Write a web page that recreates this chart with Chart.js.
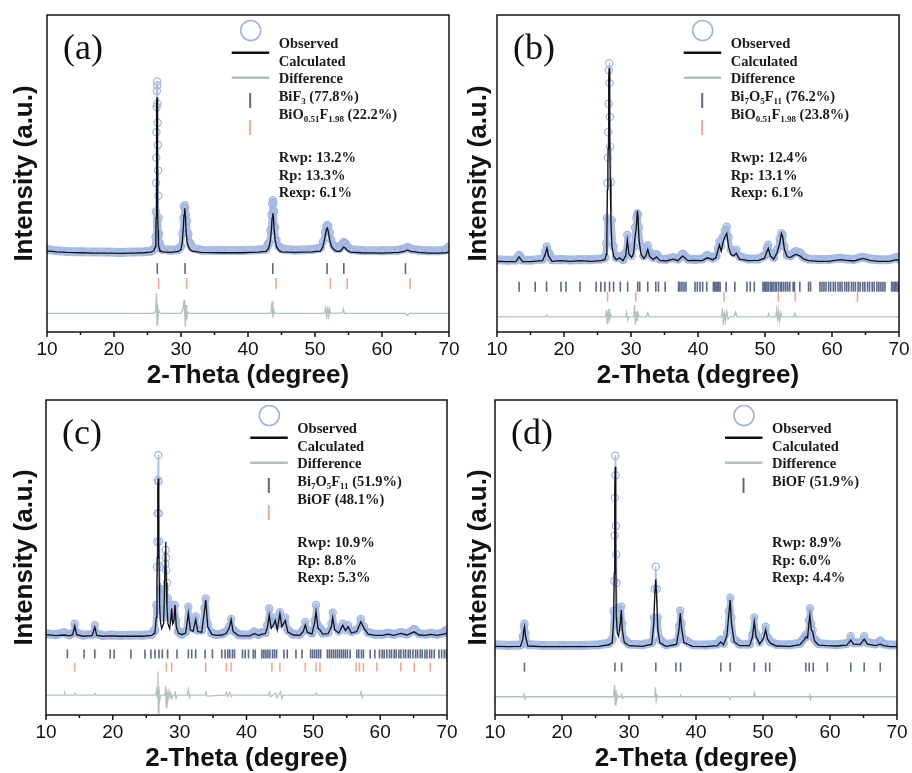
<!DOCTYPE html>
<html><head><meta charset="utf-8">
<script src="https://cdn.jsdelivr.net/npm/chart.js@4.4.1/dist/chart.umd.min.js"></script>
<style>
html,body{margin:0;padding:0;background:#fff;}
#wrap{position:relative;width:912px;height:773px;overflow:hidden;background:#fff;}
canvas{position:absolute;}
</style></head><body>
<div id="wrap">
<canvas id="cc" width="466" height="387" style="left:0px;top:386px"></canvas>
<canvas id="cd" width="450" height="387" style="left:462px;top:386px"></canvas>
<canvas id="ca" width="466" height="392" style="left:0px;top:0px"></canvas>
<canvas id="cb" width="450" height="392" style="left:462px;top:0px"></canvas>
</div>
<script>
// ---------------- DATA ----------------
const xTicks = [10, 20, 30, 40, 50, 60, 70];
const seriesNames = ['Observed', 'Calculated', 'Difference'];
const axisTitleX = '2-Theta (degree)';
const axisTitleY = 'Intensity (a.u.)';

// Panel (a)
const aTheta = [10, 11.5, 13, 15, 17, 19, 21, 23, 24.5, 25.5, 25.9,
  26.2, 26.25, 26.28, 26.31, 26.34, 26.37, 26.4, 26.43, 26.46, 26.49, 26.52, 26.55, 26.58, 26.62, 26.66, 26.72, 26.8, 26.95,
  27.3, 28.5, 29.6, 30.0, 30.2, 30.35, 30.45, 30.55, 30.65, 30.75, 30.9, 31.1, 31.35, 31.7,
  33, 36, 39, 41.5, 42.7, 43.1, 43.35, 43.5, 43.6, 43.7, 43.8, 43.9, 44.05, 44.25, 44.6, 45.0,
  47, 49.5, 50.8, 51.2, 51.5, 51.7, 51.85, 52.0, 52.2, 52.45, 52.8, 53.2,
  53.7, 54.0, 54.25, 54.5, 54.8, 55.3, 57, 60, 62.5, 63.3, 63.8, 64.3, 65.5, 67, 68.5, 69.5, 70];
const aObs = [26, 25.6, 25.4, 25.3, 25.2, 25.2, 25.1, 25.2, 25.3, 25.5, 26,
  30, 38, 47, 55, 63, 71, 76, 79, 77.8, 72, 66, 59, 51, 43, 36, 31, 28, 26.5,
  26, 25.8, 26, 27, 31, 36, 39.5, 40, 39, 37, 35, 31, 28, 26.5,
  25.8, 25.7, 25.7, 25.9, 26.2, 28, 32, 37, 40.5, 41.6, 40.8, 38, 33, 29, 27, 26.2,
  25.8, 26, 26.5, 28.5, 31.5, 33.3, 33.8, 33.2, 31.5, 29, 27.3, 26.3,
  26.5, 27.5, 28.4, 28, 27, 26, 25.7, 25.6, 25.8, 26.2, 26.7, 26.2, 25.8, 25.6, 25.6, 25.9, 26.8];
const aCalc = [25.6, 25.3, 25.1, 25.0, 24.9, 24.9, 24.8, 24.9, 25.0, 25.2, 25.6,
  27, 30, 36, 45, 56, 66, 72, 74, 70, 60, 48, 38, 32, 29, 27.5, 26.5, 26, 25.6,
  25.3, 25.1, 25.4, 26, 28.5, 33, 37, 39, 37, 32, 28.5, 27, 26, 25.5,
  25.1, 25.0, 25.0, 25.2, 25.4, 26.5, 29, 32.5, 36, 37.5, 36, 32.5, 29, 27, 25.8, 25.3,
  25.1, 25.3, 25.5, 27, 30, 32.3, 32.8, 31.5, 29, 27, 26, 25.5,
  25.4, 26, 26.8, 26.5, 25.8, 25.2, 25.0, 24.9, 25.1, 25.4, 25.9, 25.4, 25.1, 24.9, 24.9, 25.0, 25.2];
const aDiffTheta = [10, 20, 25.9, 26.2, 26.35, 26.42, 26.48, 26.55, 26.65, 26.9, 30.0, 30.3, 30.45, 30.55, 30.65, 30.75, 30.85, 31.0, 31.3,
  43.4, 43.6, 43.72, 43.85, 44.0, 51.4, 51.6, 51.75, 51.9, 52.05, 52.2, 52.35, 54.1, 54.25, 54.4, 63.5, 63.8, 64.1, 70];
const aDiff = [5.9, 5.9, 5.9, 6.5, 12.2, 2.2, 9, 3, 6.8, 5.9, 5.9, 7, 10.1, 6, 1.7, 8.5, 4, 6.3, 5.9,
  5.9, 9.6, 4.5, 7, 5.9, 5.9, 7.5, 4.2, 8, 5, 7.3, 5.9, 6, 7.2, 5.9, 5.9, 5.2, 5.9, 5.9];
const aPhase1 = [26.46, 30.6, 43.7, 51.8, 54.3, 63.5];
const aPhase2 = [26.67, 30.85, 44.2, 52.3, 54.8, 64.2];
const aPhaseLabels = [['BiF', ['3'], ' (77.8%)'], ['BiO', ['0.51'], 'F', ['1.98'], ' (22.2%)']];
const aStats = ['Rwp: 13.2%', 'Rp: 13.3%', 'Rexp: 6.1%'];

// Panel (b)
const bTheta = [10, 11.5, 12.8, 13.3, 13.8, 15, 16.8, 17.2, 17.45, 17.7, 18.2, 19.5, 21, 22.4, 24, 25.5,
  26.1, 26.3, 26.4, 26.48, 26.55, 26.6, 26.65, 26.7, 26.75, 26.8, 26.85, 26.9, 27.0, 27.15, 27.4, 27.8,
  28.3, 28.8, 29.2, 29.45, 29.7, 30.1, 30.4, 30.6, 30.8, 30.95, 31.05, 31.2, 31.5, 31.9, 32.2, 32.5, 32.8, 33.3, 33.8, 34.3,
  35.2, 36.3, 37.0, 37.7, 38.5, 39.6, 40.6, 41.4, 42.2, 42.7, 43.0, 43.2, 43.45, 43.7, 44.0, 44.3, 44.55, 44.9, 45.3, 45.7, 46.2, 47.5,
  49.0, 49.9, 50.3, 50.5, 50.8, 51.3, 51.8, 52.2, 52.45, 52.65, 52.9, 53.3, 53.8, 54.3, 54.6, 55.2, 55.8, 56.5,
  58, 59.5, 61.2, 62.2, 63.3, 64.6, 65.8, 67, 68.5, 69.7, 70];
const bObs = [22.8, 22.6, 22.7, 24.2, 22.7, 22.6, 23, 25.5, 27, 25, 22.8, 22.9, 22.7, 22.9, 22.8, 23,
  23.5, 28, 36, 47, 55, 63, 72, 82.6, 84.8, 78.5, 67.8, 58.4, 47.3, 35.3, 27, 23.5,
  23.8, 22.8, 25, 30.6, 25.5, 24, 27, 33, 36, 37.4, 37, 33, 27, 24, 25, 27.4, 25, 23.5, 24.5, 23,
  22.9, 23.5, 23, 24.6, 23, 22.9, 23, 24.2, 23.3, 24, 26.5, 28.5, 27, 30, 32, 33.2, 30, 26, 25, 26, 23.8, 23,
  23, 24, 26.5, 27.5, 25, 23.5, 26, 29.5, 31.2, 30.5, 27, 24.3, 24, 25, 25.6, 25, 23.5, 23,
  22.9, 22.9, 23.3, 23, 22.9, 23.6, 23, 22.8, 22.8, 23.6, 23];
const bCalc = [22.3, 22.2, 22.2, 23.7, 22.2, 22.2, 22.5, 24.5, 26.4, 24, 22.3, 22.5, 22.3, 22.5, 22.3, 22.5,
  22.8, 24.5, 30, 45, 53, 58, 68, 80, 83.2, 76, 62, 48, 35, 27, 24, 22.8,
  23.4, 22.5, 24, 29, 24.5, 23.5, 25, 30, 33, 38.3, 36, 29, 24.5, 23.2, 24, 26, 23.8, 22.9, 23.7, 22.6,
  22.4, 23, 22.5, 24, 22.5, 22.6, 22.5, 23.4, 22.8, 23.5, 26, 27.4, 25.5, 28, 30, 31.1, 27, 24.5, 24, 24.8, 23, 22.5,
  22.6, 23.2, 25.5, 26.4, 24, 23, 25, 28, 31.1, 30, 26, 23.8, 23.5, 24.2, 24.5, 24, 23, 22.5,
  22.3, 22.3, 22.8, 22.6, 22.4, 23.2, 22.5, 22.3, 22.3, 22.8, 22.4];
const bDiffTheta = [10, 17.2, 17.4, 17.6, 26.2, 26.35, 26.45, 26.55, 26.65, 26.72, 26.8, 26.9, 27.1,
  29.2, 29.35, 29.5, 29.65, 30.4, 30.55, 30.65, 30.8, 30.95, 31.05, 31.2, 32.3, 32.5, 32.7,
  43.5, 43.65, 43.8, 43.95, 44.1, 44.3, 44.5, 44.7, 45.4, 45.6, 45.8, 50.4, 50.55, 50.7,
  51.6, 51.75, 51.9, 52.05, 52.2, 52.35, 52.5, 54.3, 54.45, 54.6, 70];
const bDiff = [4.8, 4.8, 5.4, 4.8, 4.8, 6.9, 2.7, 6.5, 4, 7.3, 3.3, 5.8, 4.8,
  4.8, 6.3, 3.8, 4.8, 4.8, 8.5, 2.2, 6.5, 3.5, 6, 4.8, 4.8, 6, 4.8,
  4.8, 7.4, 2.2, 6.5, 3.5, 6.5, 4, 4.8, 4.8, 6.3, 4.8, 4.8, 5.8, 4.8,
  4.8, 7.1, 3.3, 6.5, 3.5, 6, 4.8, 4.8, 6, 4.8, 4.8];
const bPhase1 = [13.3, 15.7, 17.4, 19.55, 20.3, 22.4, 24.8, 25.5, 26.1, 26.8, 27.4, 28.4, 29.5, 31.0, 31.3, 32.5, 33.7, 34.1, 35.1,
  37.1, 37.3, 37.6, 37.9, 38.2, 39.55, 39.9, 40.3, 40.7, 41.3, 42.3, 42.5, 42.7, 42.9, 43.1, 43.3, 44.2, 45.5, 47.3, 47.8, 48.4,
  49.7, 49.9, 50.1, 50.3, 50.5, 50.8, 51.0, 51.2, 51.5, 51.7, 52.0, 52.3, 52.5, 52.8, 53.1, 53.4, 53.7, 54.2, 54.4, 55.2, 56.5, 56.8,
  58.2, 58.5, 58.8, 59.1, 59.5, 59.8, 60.2, 60.5, 60.9, 61.2, 61.5, 61.9, 62.2, 62.5, 62.9, 63.2, 63.5, 63.9, 64.2, 64.6, 64.9,
  65.3, 65.6, 66.0, 66.3, 66.7, 67.0, 67.3, 67.6, 67.9, 68.9, 69.1, 69.3, 69.5, 69.7, 69.9];
const bPhase2 = [26.5, 30.7, 43.9, 52.0, 54.5, 63.8];
const bPhaseLabels = [['Bi', ['7'], 'O', ['5'], 'F', ['11'], ' (76.2%)'], ['BiO', ['0.51'], 'F', ['1.98'], ' (23.8%)']];
const bStats = ['Rwp: 12.4%', 'Rp: 13.1%', 'Rexp: 6.1%'];

// Panel (c)
const cTheta = [10, 11.5, 12.7, 13.5, 14.0, 14.3, 14.6, 15.5, 16.9, 17.3,
  17.6, 18.5, 19.8, 21, 22.7, 24.5, 25.8, 26.3, 26.5, 26.6,
  26.65, 26.7, 26.75, 26.8, 26.85, 26.9, 26.95, 27.0, 27.1, 27.3,
  27.6, 27.75, 27.85, 27.9, 27.95, 28.0, 28.1, 28.25, 28.5, 28.7,
  28.8, 28.95, 29.15, 29.3, 29.5, 29.8, 30.3, 30.9, 31.3, 31.6,
  32.0, 32.4, 32.7, 33.3, 33.7, 33.9, 34.2, 34.8, 35.5, 36.4,
  37.0, 37.4, 37.7, 38.0, 38.8, 39.5, 40.5, 41.2, 41.8, 42.3,
  42.8, 43.1, 43.4, 43.7, 44.0, 44.3, 44.6, 45.0, 45.3, 45.8,
  46.2, 47.0, 48.0, 48.5, 48.8, 49.1, 49.8, 50.2, 50.4, 50.7,
  51.0, 51.4, 52.2, 52.7, 52.9, 53.2, 53.8, 54.4, 54.8, 55.2,
  55.7, 56.5, 57.1, 57.6, 58.2, 59.3, 60.3, 61.2, 62.0, 63.1,
  64.0, 65.1, 65.8, 66.8, 67.6, 68.5, 69.5, 69.8, 70];
const cObs = [25.8, 25.5, 26.2, 25.4, 26, 29, 26, 25.3, 25.6, 28.5,
  25.8, 25.2, 25.4, 25.2, 25.3, 25.3, 25.6, 27, 35, 47,
  55, 64, 74.6, 82.5, 74, 64, 55, 47, 40, 33,
  31, 40, 48, 52.4, 50, 46, 42, 37, 31, 33,
  35, 31, 31.5, 34.9, 30, 26.5, 25.6, 26.5, 34.4, 28,
  27.5, 31.3, 27, 27, 34, 37, 29, 26, 25.5, 25.8,
  26.5, 28, 30.5, 27, 25.5, 25.4, 25.4, 26.4, 25.5, 26.2,
  26.2, 28.5, 33.8, 29, 29.5, 31, 28.5, 32.6, 29, 31,
  27, 25.6, 25.6, 27, 29.5, 27, 26, 30, 34.9, 28.5,
  27.5, 26, 26.2, 29, 32.5, 28, 26.5, 29, 27, 28.5,
  26.5, 27, 30.5, 28, 26.2, 25.6, 25.6, 26, 25.6, 26.2,
  25.7, 27.2, 25.8, 25.6, 26, 25.6, 26.2, 26.8, 26.2];
const cCalc = [25.5, 25.2, 25.4, 25.1, 25.5, 28.3, 25.5, 25, 25.2, 27.9,
  25.3, 25, 25.1, 25, 25, 25, 25.3, 26, 31, 42,
  50, 62, 72, 75.1, 70, 55, 42, 35, 30, 27.5,
  29, 42, 52, 55, 50, 42, 34, 29, 27.5, 31,
  33.8, 29, 30, 34.9, 28, 26, 25.5, 26, 32.3, 27,
  26.5, 30.3, 26.5, 26.3, 33, 36.5, 28, 25.6, 25.3, 25.4,
  26, 27.5, 30.3, 26.5, 25.2, 25.1, 25.1, 25.9, 25.2, 25.7,
  25.8, 27.5, 31.7, 27.5, 28.5, 30, 27, 32.1, 28, 30,
  26.3, 25.4, 25.3, 26.5, 28.6, 26.3, 25.7, 29.5, 32.8, 27.5,
  27, 25.7, 25.8, 28, 30.9, 27, 26, 28.5, 26.8, 28,
  26, 26.5, 29.6, 27.5, 25.7, 25.3, 25.3, 25.7, 25.3, 25.9,
  25.4, 26.4, 25.4, 25.3, 25.6, 25.3, 25.7, 25.9, 25.6];
const cDiffTheta = [10, 12.7, 12.8, 12.9, 14.2, 14.35, 14.5, 17.2, 17.35, 17.5,
  26.4, 26.55, 26.65, 26.75, 26.82, 26.9, 27.0, 27.15,
  27.8, 27.9, 27.98, 28.1, 28.25, 28.4, 28.55, 28.7, 28.85, 29.0, 29.2, 29.3, 29.45, 29.6,
  31.15, 31.3, 31.45, 31.6, 33.8, 33.95, 34.1, 36.8, 37.0, 37.15, 37.5, 37.7, 37.9,
  43.3, 43.45, 43.6, 44.4, 44.55, 45.1, 45.3, 45.5, 50.3, 50.45, 50.6, 57.0, 57.15, 57.3, 57.45, 70];
const cDiff = [6.3, 6.3, 6.9, 6.3, 6.3, 6.9, 6.3, 6.3, 6.8, 6.3,
  6.3, 8, 5.5, 13.8, 0.7, 9, 4.5, 6.3,
  6.3, 9.2, 2.4, 8, 5, 7.5, 5.5, 6.9, 5.3, 6.3, 6.3, 7.5, 5.3, 6.3,
  6.3, 8.1, 5.5, 6.3, 6.3, 7.3, 6, 6.3, 7.2, 5.8, 7.2, 5.8, 6.3,
  6.3, 7.3, 5.8, 6.9, 5.5, 7.3, 5.2, 6.3, 6.3, 7, 6.3, 6.3, 7.3, 5.6, 6.3, 6.3];
const cPhase1 = [13.2, 15.7, 17.3, 19.6, 20.2, 22.7, 24.8, 25.7, 26.3, 26.9, 27.4, 28.2, 29.6, 31.3, 31.8, 32.4, 33.8, 34.9,
  36.3, 36.8, 37.2, 37.5, 37.9, 38.2, 39.4, 39.8, 40.3, 41.0, 41.3, 42.3, 42.6, 42.9, 43.2, 43.5, 43.9, 44.2, 44.5, 45.6, 46.1,
  47.4, 48.3, 49.6, 49.9, 50.2, 50.5, 50.8, 51.1, 52.1, 52.4, 52.7, 53.0, 53.3, 53.6, 53.9, 54.2, 54.5, 54.8, 55.1, 55.5,
  56.5, 56.8, 57.2, 57.5, 58.5, 59.2, 59.9, 60.3, 60.6, 61.0, 61.4, 61.7, 62.1, 62.4, 62.8, 63.1, 63.5, 63.8, 64.2, 64.5,
  64.9, 65.3, 65.6, 66.0, 66.3, 66.7, 67.0, 67.4, 67.7, 68.1, 68.8, 69.2, 69.6, 69.9];
const cPhase2 = [14.3, 28.0, 28.8, 33.9, 37.0, 37.7, 43.8, 45.0, 48.8, 50.4, 51.0, 56.4, 56.9, 57.5, 59.5, 63.1, 65.1, 67.5];
const cPhaseLabels = [['Bi', ['7'], 'O', ['5'], 'F', ['11'], ' (51.9%)'], ['BiOF (48.1%)']];
const cStats = ['Rwp: 10.9%', 'Rp: 8.8%', 'Rexp: 5.3%'];

// Panel (d)
const dTheta = [10, 12, 13.8, 14.15, 14.3, 14.4, 14.55, 14.9, 17, 20,
  23, 25.5, 27.0, 27.5, 27.7, 27.8, 27.85, 27.9, 27.95, 28.0,
  28.05, 28.1, 28.15, 28.25, 28.45, 28.7, 28.85, 29.0, 29.3, 30,
  32, 33.4, 33.7, 33.85, 34.0, 34.15, 34.3, 34.6, 35.5, 36.8,
  37.1, 37.45, 37.65, 37.85, 38.2, 39.5, 41.5, 43.2, 43.7, 44.1,
  44.6, 44.9, 45.1, 45.3, 45.7, 46.5, 48.0, 48.4, 48.7, 48.95,
  49.5, 50.1, 50.4, 50.7, 51.1, 52, 54, 55.5, 56.2, 56.4,
  56.65, 56.85, 57.0, 57.2, 57.4, 57.7, 58.3, 59.5, 61, 62.5,
  63.1, 63.5, 64.5, 65.1, 65.6, 66.8, 67.5, 68.0, 69, 70];
const dObs = [22.3, 22.1, 22.2, 25, 28, 29, 26, 22.4, 22.1, 22.1,
  22.1, 22.3, 22.8, 24, 33, 42.5, 57, 69, 82.3, 76.1,
  60, 51, 42, 34, 28, 30, 34.4, 29, 24, 22.5,
  22.3, 23, 31, 40, 47.1, 40, 31, 24, 22.3, 22.8,
  23.2, 28, 33.1, 29, 24, 22.3, 22.2, 22.5, 23.8, 22.8,
  26, 33, 37.2, 31, 24, 22.5, 22.5, 25.5, 31, 26,
  23, 25, 28, 24.5, 23.2, 22.4, 22.3, 22.8, 24.5, 25.5,
  25, 30, 33.9, 29, 27, 24, 22.6, 22.5, 22.3, 22.7,
  25, 23, 23, 25, 23, 22.5, 23.5, 22.5, 22.2, 22.2];
const dCalc = [21.8, 21.7, 21.8, 24, 27, 28, 25, 21.9, 21.7, 21.7,
  21.7, 21.8, 22.3, 23, 30, 45, 60, 72, 78.8, 68,
  50, 31, 30, 26, 25, 29, 33.3, 27, 23, 22,
  21.8, 22.5, 29, 38, 43.1, 36, 27, 23, 21.8, 22.3,
  22.5, 27, 32.3, 27.5, 23, 21.8, 21.7, 22, 23.2, 22.3,
  25, 32, 36.5, 29, 23.2, 22, 22, 24.5, 29.6, 25,
  22.5, 24.5, 27, 24, 22.8, 21.9, 21.8, 22.3, 24, 24.8,
  24.5, 29, 31.7, 27, 26.5, 23.5, 22.2, 22, 21.9, 22.2,
  23.8, 22.5, 22.4, 24.1, 22.5, 22, 22.5, 22, 21.7, 21.7];
const dDiffTheta = [10, 14.2, 14.35, 14.5, 14.65, 27.7, 27.85, 27.95, 28.05, 28.15, 28.3, 28.4,
  28.8, 28.9, 29.0, 29.1, 33.85, 33.95, 34.05, 34.2, 34.35, 37.6, 37.7, 37.8,
  44.9, 45.05, 45.2, 48.6, 48.7, 48.8, 56.9, 57.0, 57.1, 57.2, 70];
const dDiff = [5.8, 5.8, 6.6, 5, 5.8, 5.8, 9.5, 3.2, 8, 4.5, 6.3, 5.8,
  5.8, 6.5, 5.4, 5.8, 5.8, 8.8, 4.5, 6.2, 5.8, 5.8, 6.3, 5.8,
  5.8, 5, 5.8, 5.8, 6.9, 5.8, 5.8, 6.8, 5, 5.8, 5.8];
const dPhase1 = [14.4, 27.9, 28.9, 34.0, 37.0, 37.7, 43.7, 45.1, 48.7, 50.4, 51.0, 56.4, 56.9, 57.5, 59.6, 63.1, 65.1, 67.5];
const dPhaseLabels = [['BiOF (51.9%)']];
const dStats = ['Rwp: 8.9%', 'Rp: 6.0%', 'Rexp: 4.4%'];

// ---------------- STYLE ----------------
Chart.defaults.font.family = '"Liberation Sans", Arial, sans-serif';
Chart.defaults.color = '#111';
const OBS_BAND = '#abbfe7', OBS_RING = '#9fb4e2', CALC_COL = '#111111', DIFF_COL = '#b1c2bd';
const PH1_COL = '#5a6889', PH2_COL = '#f3a88d';
const SERIF = '"Liberation Serif", "Times New Roman", serif';

function drawRich(ctx, parts, x, y, size) {
  let cx = x;
  for (const p of parts) {
    const sub = Array.isArray(p);
    const txt = sub ? p[0] : p;
    ctx.font = 'bold ' + (sub ? size * 0.62 : size) + 'px ' + SERIF;
    ctx.fillText(txt, cx, sub ? y + size * 0.2 : y);
    cx += ctx.measureText(txt).width;
  }
}

const decor = {
  id: 'decor',
  afterDatasetsDraw(chart, args, o) {
    const ctx = chart.ctx, a = chart.chartArea, xs = chart.scales.x;
    ctx.save();
    ctx.strokeStyle = '#111'; ctx.lineWidth = 1.5;
    for (let t = 10; t <= 70; t += 5) {
      const x = xs.getPixelForValue(t);
      const len = t % 10 === 0 ? 5 : 3;
      ctx.beginPath(); ctx.moveTo(x, a.bottom); ctx.lineTo(x, a.bottom + len); ctx.stroke();
    }
    ctx.strokeRect(a.left, a.top, a.right - a.left, a.bottom - a.top);
    ctx.fillStyle = '#111';
    ctx.textAlign = 'left'; ctx.textBaseline = 'alphabetic';
    ctx.font = '36px ' + SERIF;
    ctx.fillText(o.label, a.left + 16, a.top + 44);
    const lx = a.left + o.legendX, t0 = a.top;
    ctx.strokeStyle = OBS_RING; ctx.lineWidth = 1.6;
    ctx.beginPath(); ctx.arc(lx - 28, t0 + 15.5, 10, 0, Math.PI * 2); ctx.stroke();
    ctx.lineWidth = 2.6;
    ctx.strokeStyle = CALC_COL;
    ctx.beginPath(); ctx.moveTo(lx - 47, t0 + 37.7); ctx.lineTo(lx - 9.5, t0 + 37.7); ctx.stroke();
    ctx.strokeStyle = DIFF_COL;
    ctx.beginPath(); ctx.moveTo(lx - 47, t0 + 62.7); ctx.lineTo(lx - 9.5, t0 + 62.7); ctx.stroke();
    const tickCols = [PH1_COL, PH2_COL];
    const tickY = [[78, 93], [105, 120]];
    ctx.lineWidth = 2;
    o.phaseLabels.forEach((_, i) => {
      ctx.strokeStyle = tickCols[i];
      ctx.beginPath(); ctx.moveTo(lx - 28.5, t0 + tickY[i][0]); ctx.lineTo(lx - 28.5, t0 + tickY[i][1]); ctx.stroke();
    });
    ctx.fillStyle = '#1a1a1a';
    const fs = 14.5;
    const baseL = [33, 51, 68.3, 86, 104];
    seriesNames.forEach((s, i) => drawRich(ctx, [s], lx, t0 + baseL[i], fs));
    o.phaseLabels.forEach((p, i) => drawRich(ctx, p, lx, t0 + baseL[3 + i], fs));
    const baseS = [147.3, 165, 182.3];
    o.stats.forEach((s, i) => drawRich(ctx, [s], lx, t0 + baseS[i], fs));
    ctx.restore();
  }
};

function buildPanel(id, p) {
  const pts = (xs, ys) => xs.map((x, i) => ({x: x, y: ys[i]}));
  const thr = p.base + 2.5, tall = p.base + 16;
  const datasets = [
    {label: 'Calculated', data: pts(p.theta, p.calc), borderColor: CALC_COL, borderWidth: 1.3,
     pointRadius: 0, fill: false, order: 1},
    {label: 'Difference', data: pts(p.diffTheta, p.diff), borderColor: DIFF_COL, borderWidth: 1.3,
     pointRadius: 0, fill: false, order: 2}
  ];
  p.phases.forEach((ph, i) => {
    datasets.push({label: 'Phase ' + (i + 1), data: ph.map(t => ({x: t, y: p.rows[i]})), showLine: false,
      pointStyle: 'line', pointRotation: 90, pointRadius: p.tickR, pointHoverRadius: p.tickR,
      pointBorderColor: i === 0 ? PH1_COL : PH2_COL, pointBorderWidth: 1.6, order: 2});
  });
  datasets.push({label: 'Observed', data: pts(p.theta, p.obs), borderColor: OBS_BAND, borderWidth: 9,
    borderJoinStyle: 'round', borderCapStyle: 'round',
    segment: {borderWidth: c => {
      const y0 = c.p0.parsed.y, y1 = c.p1.parsed.y;
      if (y0 < thr && y1 < thr) return 9;
      if (Math.max(y0, y1) > tall) return 1.2;
      return 5.5;
    }},
    pointRadius: 3.6, pointBorderWidth: 1.2, pointBorderColor: OBS_RING,
    pointBackgroundColor: 'rgba(255,255,255,0)', fill: false, order: 3});

  new Chart(document.getElementById(id), {
    type: 'line',
    data: {datasets: datasets},
    plugins: [decor],
    options: {
      responsive: false, animation: false, devicePixelRatio: 1, events: [],
      layout: {padding: {top: p.T, right: p.R, bottom: 0, left: 0}},
      plugins: {legend: {display: false}, tooltip: {enabled: false},
        decor: {label: p.label, legendX: p.legendX, phaseLabels: p.phaseLabels, stats: p.stats}},
      scales: {
        x: {type: 'linear', min: 10, max: 70,
          grid: {display: false, drawTicks: false}, border: {display: false},
          afterBuildTicks: s => { s.ticks = xTicks.map(v => ({value: v})); },
          ticks: {font: {size: 19}, color: '#111', padding: 6, maxRotation: 0, autoSkip: false},
          title: {display: true, text: axisTitleX, color: '#111',
            font: {size: 26, weight: 'bold', lineHeight: p.xLH}, padding: {top: 0, bottom: 0}},
          afterFit: s => { s.height = p.xH; s.paddingLeft = 0; s.paddingRight = 0; }},
        y: {min: 0, max: 100, grid: {display: false, drawTicks: false}, border: {display: false},
          ticks: {display: false},
          title: {display: true, text: axisTitleY, color: '#111',
            font: {size: 26, weight: 'bold'}, padding: {top: p.yTP, bottom: 0}},
          afterFit: s => { s.width = p.L; s.paddingTop = 0; s.paddingBottom = 0; }}
      }
    }
  });
}

buildPanel('ca', {theta: aTheta, obs: aObs, calc: aCalc, diffTheta: aDiffTheta, diff: aDiff,
  phases: [aPhase1, aPhase2], rows: [20, 15.3], tickR: 5.5, base: 25.9,
  label: '(a)', legendX: 231.7, phaseLabels: aPhaseLabels, stats: aStats,
  L: 47, T: 15, R: 17, xH: 60, yTP: 9.4, xLH: 1.26});
buildPanel('cb', {theta: bTheta, obs: bObs, calc: bCalc, diffTheta: bDiffTheta, diff: bDiff,
  phases: [bPhase1, bPhase2], rows: [14.3, 11.1], tickR: 5, base: 22.7,
  label: '(b)', legendX: 233.7, phaseLabels: bPhaseLabels, stats: bStats,
  L: 35, T: 15, R: 13, xH: 60, yTP: 1.4, xLH: 1.26});
buildPanel('cc', {theta: cTheta, obs: cObs, calc: cCalc, diffTheta: cDiffTheta, diff: cDiff,
  phases: [cPhase1, cPhase2], rows: [19.4, 15.2], tickR: 4.5, base: 25.4,
  label: '(c)', legendX: 251.3, phaseLabels: cPhaseLabels, stats: cStats,
  L: 46, T: 14, R: 19, xH: 58, yTP: 9.4, xLH: 1.1});
buildPanel('cd', {theta: dTheta, obs: dObs, calc: dCalc, diffTheta: dDiffTheta, diff: dDiff,
  phases: [dPhase1], rows: [15.2], tickR: 4.5, base: 22.2,
  label: '(d)', legendX: 277, phaseLabels: dPhaseLabels, stats: dStats,
  L: 33, T: 14, R: 15, xH: 58, yTP: 1.4, xLH: 1.1});
</script>
</body></html>
